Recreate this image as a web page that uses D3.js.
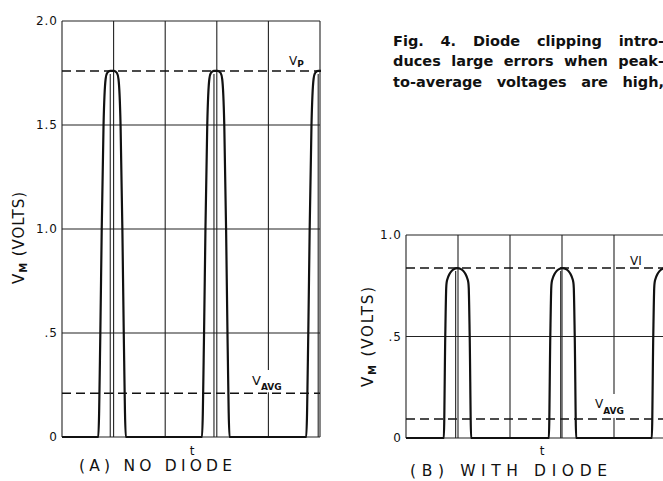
<!DOCTYPE html>
<html>
<head>
<meta charset="utf-8">
<script src="https://cdn.jsdelivr.net/npm/d3@7"></script>
<style>
  body { margin: 0; background: #fff; }
  svg { display: block; }
  text { font-family: "DejaVu Sans", Lato, sans-serif; fill: #111; }
</style>
</head>
<body>
<script>
// time grid (arbitrary units, t has no tick labels)
const gridT = [0, 1, 2, 3, 4, 5];

// (A) no diode
const yTicksA = [0, 0.5, 1.0, 1.5, 2.0];
const yLabelsA = ["0", ".5", "1.0", "1.5", "2.0"];
const pulseCentersA = [0.97, 2.98, 5.0];
// pulse outline: [offset from pulse centre in t, volts]
const pulseShapeA = [[-0.267, 0], [-0.227, 0.5], [-0.2, 1.0], [-0.165, 1.5], [-0.125, 1.72],
  [-0.095, 1.75], [-0.04, 1.76], [0.04, 1.76], [0.095, 1.75], [0.125, 1.72],
  [0.165, 1.5], [0.2, 1.0], [0.227, 0.5], [0.267, 0]];
const peakA = 1.76;
const avgA = 0.21;

// (B) with diode
const yTicksB = [0, 0.5, 1.0];
const yLabelsB = ["0", ".5", "1.0"];
const pulseCentersB = [0.99, 3.01, 4.99];
const pulseShapeB = [[-0.263, 0], [-0.235, 0.5], [-0.217, 0.737], [-0.208, 0.767], [-0.188, 0.787],
  [-0.156, 0.807], [-0.115, 0.822], [-0.067, 0.832], [0, 0.837], [0.067, 0.832],
  [0.115, 0.822], [0.156, 0.807], [0.188, 0.787], [0.208, 0.767], [0.217, 0.737],
  [0.235, 0.5], [0.263, 0]];
const peakB = 0.837;
const avgB = 0.094;
const retraceOffset = -0.035;

const captionLines = ["Fig. 4. Diode clipping intro-", "duces large errors when peak-", "to-average voltages are high,"];

const svg = d3.select("body").append("svg")
  .attr("width", 663)
  .attr("height", 481);

function drawPanel(p) {
  let x = d3.scaleLinear().domain([0, 5]).range(p.xRange);
  let y = d3.scaleLinear().domain([0, p.yMax]).range(p.yRange);
  let g = svg.append("g");

  let clipId = "clip" + p.id;
  svg.append("clipPath").attr("id", clipId)
    .append("rect")
      .attr("x", x(0) - 1).attr("y", y(p.yMax) - 2)
      .attr("width", x(5) - x(0) + 2).attr("height", y(0) - y(p.yMax) + 4);

  // grid
  g.selectAll(".vgrid").data(gridT).enter().append("line")
    .attr("x1", (d) => x(d)).attr("x2", (d) => x(d))
    .attr("y1", y(p.yMax)).attr("y2", y(0))
    .attr("stroke", "#222").attr("stroke-width", 1.1);
  g.selectAll(".hgrid").data(p.yTicks).enter().append("line")
    .attr("x1", x(0)).attr("x2", x(5))
    .attr("y1", (d) => y(d)).attr("y2", (d) => y(d))
    .attr("stroke", "#222").attr("stroke-width", 1.1);

  // tick labels
  g.selectAll(".tick").data(p.yTicks).enter().append("text")
    .attr("x", x(0) - 4)
    .attr("y", (d) => y(d))
    .attr("dy", "0.36em")
    .attr("text-anchor", "end")
    .style("font-size", "12px")
    .style("letter-spacing", "1px")
    .text((d, i) => p.yLabels[i]);

  // V_AVG label with white patch over grid
  let avgLabel = g.append("text")
    .attr("x", p.avgLabel[0]).attr("y", p.avgLabel[1])
    .style("font-size", p.avgSize[0] + "px");
  avgLabel.append("tspan").text("V");
  avgLabel.append("tspan").attr("dy", p.avgSub)
    .style("font-size", p.avgSize[1] + "px").style("font-weight", "bold")
    .text("AVG");
  let bb = avgLabel.node().getBBox();
  g.insert("rect", "text")
    .attr("x", bb.x - 2).attr("y", bb.y - 3)
    .attr("width", bb.width + 4).attr("height", y(p.avg) - bb.y + 2)
    .attr("fill", "#fff");

  // dashed peak and average lines
  g.selectAll(".dash").data([p.peak, p.avg]).enter().append("line")
    .attr("x1", x(0)).attr("x2", x(5))
    .attr("y1", (d) => y(d)).attr("y2", (d) => y(d))
    .attr("stroke", "#111").attr("stroke-width", 1.5)
    .attr("stroke-dasharray", "9,5");

  // trace
  let pts = [[0, 0]];
  p.centers.forEach((c) => {
    p.shape.forEach((s) => pts.push([c + s[0], s[1]]));
  });
  pts.push([6, 0]);
  let line = d3.line()
    .x((d) => x(d[0]))
    .y((d) => y(d[1]))
    .curve(d3.curveMonotoneX);
  g.append("path")
    .datum(pts)
    .attr("clip-path", "url(#" + clipId + ")")
    .attr("fill", "none")
    .attr("stroke", "#111")
    .attr("stroke-width", 2.2)
    .attr("stroke-linejoin", "round")
    .attr("d", line);

  // thin retrace inside each pulse
  g.selectAll(".retrace").data(p.centers).enter().append("line")
    .attr("clip-path", "url(#" + clipId + ")")
    .attr("x1", (d) => x(d + retraceOffset)).attr("x2", (d) => x(d + retraceOffset))
    .attr("y1", y(0)).attr("y2", y(p.peak) + 3)
    .attr("stroke", "#222").attr("stroke-width", 1.1);

  // peak label
  let pk = g.append("text")
    .attr("x", p.peakLabel[0]).attr("y", p.peakLabel[1])
    .style("font-size", "12px");
  pk.append("tspan").text("V");
  if (p.peakSub) {
    pk.append("tspan").attr("dy", 2).style("font-size", "9px")
      .style("font-weight", "bold").text(p.peakSub);
  } else {
    pk.append("tspan").text("I");
  }

  // axis title
  let title = g.append("text")
    .attr("transform", "translate(" + p.title[0] + "," + p.title[1] + ") rotate(-90)")
    .attr("text-anchor", "middle")
    .attr("textLength", p.title[2])
    .attr("lengthAdjust", "spacing")
    .style("font-size", "15px");
  title.append("tspan").text("V");
  title.append("tspan").attr("dy", 3).style("font-size", "10px").style("font-weight", "bold").text("M");
  title.append("tspan").attr("dy", -3).text(" (VOLTS)");

  // t and caption
  g.append("text")
    .attr("x", p.tLabel[0]).attr("y", p.tLabel[1])
    .attr("text-anchor", "middle")
    .style("font-size", "12px")
    .text("t");
  g.append("text")
    .attr("x", p.name[0]).attr("y", p.name[1])
    .attr("textLength", p.name[2])
    .attr("lengthAdjust", "spacing")
    .style("font-size", "15.5px")
    .text(p.name[3]);
}

drawPanel({
  id: "A", xRange: [62, 320], yRange: [437, 21], yMax: 2.0,
  yTicks: yTicksA, yLabels: yLabelsA,
  centers: pulseCentersA, shape: pulseShapeA, peak: peakA, avg: avgA,
  avgLabel: [252, 385], avgSize: [13, 9], avgSub: 5,
  peakLabel: [289, 65], peakSub: "P",
  title: [24, 238, 92], tLabel: [192, 455], name: [79, 471, 153, "(A) NO DIODE"]
});

drawPanel({
  id: "B", xRange: [406, 666], yRange: [438, 235], yMax: 1.0,
  yTicks: yTicksB, yLabels: yLabelsB,
  centers: pulseCentersB, shape: pulseShapeB, peak: peakB, avg: avgB,
  avgLabel: [595, 408], avgSize: [12, 9], avgSub: 6,
  peakLabel: [630, 265], peakSub: null,
  title: [373, 337, 100], tLabel: [542, 455], name: [410, 476, 197, "(B) WITH DIODE"]
});

// justified caption, word by word
const capLeft = 393, capRight = 664;
const capBase = [45.5, 65.5, 86.5];
captionLines.forEach((ln, i) => {
  let words = ln.split(" ");
  let items = words.map((w) => svg.append("text")
    .attr("y", capBase[i])
    .style("font-size", "14.5px")
    .style("font-weight", "bold")
    .text(w));
  let widths = items.map((t) => t.node().getComputedTextLength());
  let gap = (capRight - capLeft - d3.sum(widths)) / (words.length - 1);
  let xPos = capLeft;
  items.forEach((t, j) => {
    t.attr("x", xPos);
    xPos += widths[j] + gap;
  });
});
</script>
</body>
</html>
